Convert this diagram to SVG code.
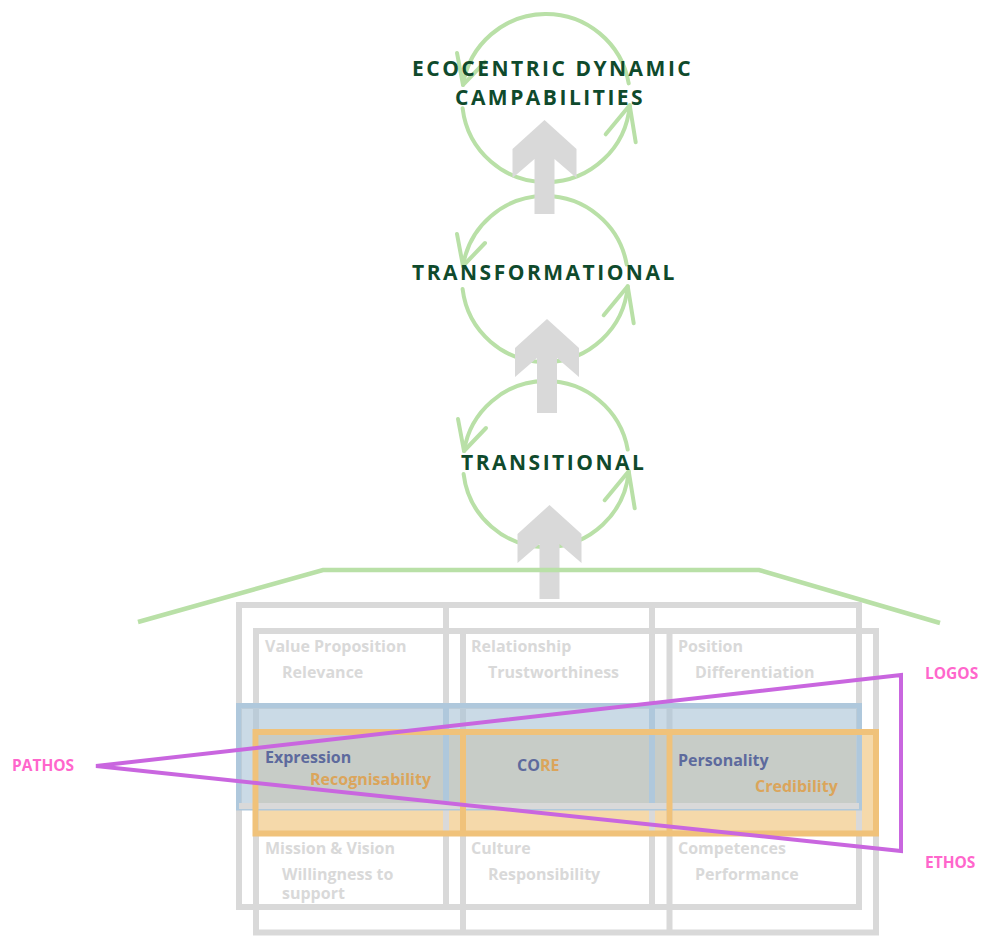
<svg xmlns="http://www.w3.org/2000/svg" xmlns:xlink="http://www.w3.org/1999/xlink" width="982" height="936" viewBox="0 0 982 936">
  <style>
    text { font-family: "Open Sans", "Noto Sans", "Liberation Sans", sans-serif; font-weight: bold; }
    .title { font-size: 21px; letter-spacing: 2.5px; fill: #0f4a2c; }
    .cycle { fill: none; stroke: #b9e0a7; stroke-width: 4; stroke-linecap: round; stroke-linejoin: round; }
    .roof { fill: none; stroke: #b9e0a7; stroke-width: 4.5; stroke-linejoin: miter; }
    .up { fill: #d9d9d9; }
    .grid { fill: none; stroke: #d9d9d9; stroke-width: 6; }
    .cell { font-size: 16px; fill: #d9d9d9; }
    .blue-t { fill: #5d6a9d; }
    .orange-t { fill: #dba55b; }
    .mid { font-size: 16px; }
    .blue-band { fill: #acc5d8; fill-opacity: 0.64; stroke: #afc8dc; stroke-width: 5; }
    .blue-line { stroke: #afc8dc; stroke-width: 6; }
    .orange-line { fill: none; stroke: #f0c27a; stroke-width: 6; }
    .appeal { fill: none; stroke: #c966df; stroke-width: 4; stroke-linejoin: miter; }
    .appeal-label { font-size: 15.5px; fill: #ff66cc; }
  </style>
  <defs>
    <!-- open chevron heads of the cycle arcs, tip at origin -->
    <path id="head-down" class="cycle" d="M -6,-32 L 0,0 L 22,-23"/>
    <path id="head-up" class="cycle" d="M 6,37 L 0,0 L -24,29"/>
    <!-- block arrow pointing up, tip at origin -->
    <path id="up-arrow" d="M 0,0 L 32,29 L 32,58 L 10,39 L 10,94 L -10,94 L -10,39 L -32,58 L -32,29 Z"/>
  </defs>

  <!-- cycles -->
  <g id="cycle-ecocentric">
    <path class="cycle" d="M 628.7,83.4 A 84 84 0 0 0 463,84.9"/>
    <path class="cycle" d="M 462.6,108.2 A 84 84 0 0 0 629.7,105.3"/>
    <use xlink:href="#head-down" x="463" y="84.9"/>
    <use xlink:href="#head-up" x="629.7" y="105.3"/>
  </g>
  <g id="cycle-transformational">
    <path class="cycle" d="M 626.7,264.6 A 83 83 0 0 0 463,266"/>
    <path class="cycle" d="M 462.6,289.1 A 83 83 0 0 0 627.7,286.2"/>
    <use xlink:href="#head-down" x="463" y="266"/>
    <use xlink:href="#head-up" x="627.7" y="286.2"/>
  </g>
  <g id="cycle-transitional">
    <path class="cycle" d="M 627.7,449.6 A 83 83 0 0 0 464,451"/>
    <path class="cycle" d="M 463.6,474.1 A 83 83 0 0 0 628.7,471.2"/>
    <use xlink:href="#head-down" x="464" y="451"/>
    <use xlink:href="#head-up" x="628.7" y="471.2"/>
  </g>

  <!-- upward block arrows between the stages -->
  <g id="connectors" class="up">
    <use xlink:href="#up-arrow" x="544.5" y="120"/>
    <use xlink:href="#up-arrow" x="547" y="319"/>
    <use xlink:href="#up-arrow" x="549.5" y="505"/>
  </g>

  <!-- stage labels -->
  <g id="label-ecocentric">
    <text class="title" x="412" y="76">ECOCENTRIC DYNAMIC</text>
    <text class="title" x="455" y="105">CAMPABILITIES</text>
  </g>
  <g id="label-transformational">
    <text class="title" x="412" y="280">TRANSFORMATIONAL</text>
  </g>
  <g id="label-transitional">
    <text class="title" x="461" y="470">TRANSITIONAL</text>
  </g>

  <!-- roof -->
  <g id="roof">
    <polyline class="roof" points="138,622 323,570 759,570 940,623"/>
  </g>

  <!-- house body -->
  <g id="house">
    <!-- fill of the middle row of the rear frame -->
    <rect x="255.5" y="732" width="620.5" height="101.5" fill="#f5d9aa"/>
    <!-- front frame -->
    <path class="grid" d="M 239,605 H 859 V 907 H 239 Z M 446,605 V 907 M 652,605 V 907 M 239,706 H 859"/>
    <!-- rear frame -->
    <path class="grid" d="M 256,631 H 876 V 932.5 H 256 Z M 463,631 V 932.5 M 669.5,631 V 932.5"/>
    <!-- middle row of the front frame -->
    <rect class="blue-band" x="238.5" y="705.5" width="621" height="102.5"/>
    <path class="blue-line" d="M 446,705 V 807 M 652,705 V 807"/>
    <path class="grid" d="M 239,806 H 859"/>
    <!-- middle row of the rear frame -->
    <path class="orange-line" d="M 255.5,732 H 876 V 833.5 H 255.5 Z M 463,732 V 833.5 M 669.5,732 V 833.5"/>
  </g>

  <!-- cells -->
  <g id="cell-value-proposition">
    <text class="cell" x="265" y="652">Value Proposition</text>
    <text class="cell" x="282" y="678">Relevance</text>
  </g>
  <g id="cell-relationship">
    <text class="cell" x="471" y="652">Relationship</text>
    <text class="cell" x="488" y="678">Trustworthiness</text>
  </g>
  <g id="cell-position">
    <text class="cell" x="678" y="652">Position</text>
    <text class="cell" x="695" y="678">Differentiation</text>
  </g>
  <g id="cell-expression">
    <text class="mid blue-t" x="265" y="763">Expression</text>
    <text class="mid orange-t" x="310" y="785">Recognisability</text>
  </g>
  <g id="cell-core">
    <text class="mid" x="517" y="771"><tspan class="blue-t">CO</tspan><tspan class="orange-t">RE</tspan></text>
  </g>
  <g id="cell-personality">
    <text class="mid blue-t" x="678" y="766">Personality</text>
    <text class="mid orange-t" x="755" y="792">Credibility</text>
  </g>
  <g id="cell-mission">
    <text class="cell" x="265" y="854">Mission &amp; Vision</text>
    <text class="cell" x="282" y="880">Willingness to<tspan x="282" dy="19">support</tspan></text>
  </g>
  <g id="cell-culture">
    <text class="cell" x="471" y="854">Culture</text>
    <text class="cell" x="488" y="880">Responsibility</text>
  </g>
  <g id="cell-competences">
    <text class="cell" x="678" y="854">Competences</text>
    <text class="cell" x="695" y="880">Performance</text>
  </g>

  <!-- rhetorical triangle -->
  <g id="appeals">
    <polygon class="appeal" points="96,766 901,675 901,851"/>
  </g>
  <g id="label-pathos"><text class="appeal-label" x="12" y="771">PATHOS</text></g>
  <g id="label-logos"><text class="appeal-label" x="925" y="679">LOGOS</text></g>
  <g id="label-ethos"><text class="appeal-label" x="925" y="868">ETHOS</text></g>
</svg>
